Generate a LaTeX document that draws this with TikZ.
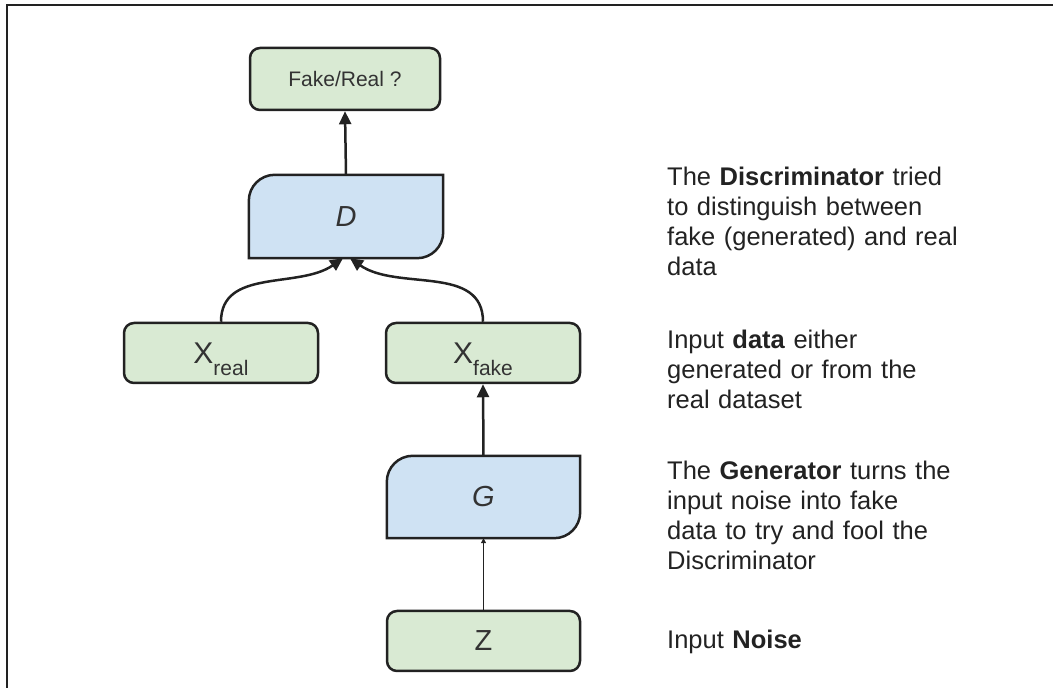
\documentclass[tikz,border=0pt]{standalone}
\usepackage{fontspec}
\setmainfont{Liberation Sans}
\usetikzlibrary{arrows.meta,backgrounds}
\definecolor{boxgreen}{HTML}{D9EAD3}
\definecolor{boxblue}{HTML}{CFE2F3}
\definecolor{ink}{HTML}{222222}
\definecolor{label}{HTML}{333333}
\begin{document}
\begin{tikzpicture}[x=1pt,y=1pt,
  box/.style={draw=ink, line width=2.5pt, fill=boxgreen, rounded corners=10pt,
    minimum width=194pt, minimum height=60pt, inner sep=0pt, text=label},
  net/.style={minimum width=194pt, minimum height=83pt, inner sep=0pt, text=label,
    font=\fontsize{29}{29}\selectfont\itshape},
  netshape/.style={draw=ink, line width=2.5pt, fill=boxblue},
  flow/.style={draw=ink, line width=2.5pt, -{Triangle[length=13pt,width=12pt]}},
  thinflow/.style={draw=ink, line width=1.1pt, -{Triangle[length=5pt,width=5pt]}},
  note/.style={anchor=base west, text width=330pt, align=left, inner sep=0pt,
    font=\fontsize{25.5}{30}\selectfont, text=ink}
]
\useasboundingbox (0,0) rectangle (1053,688);

% page frame (left and top edges)
\draw[ink, line width=2pt] (6.5,0) -- (6.5,682.5) -- (1053,682.5);

% boxes
\node[box, minimum width=190pt, minimum height=62pt, font=\fontsize{21}{21}\selectfont]
  (out) at (345,609) {Fake/Real ?};
\node[net] (D) at (346,471.5) {D};
\node[box, font=\fontsize{30}{30}\selectfont] (xreal) at (221,335)
  {X\raisebox{-12pt}[0pt][0pt]{\fontsize{21}{21}\selectfont real}};
\node[box, font=\fontsize{30}{30}\selectfont] (xfake) at (483,335)
  {X\raisebox{-12pt}[0pt][0pt]{\fontsize{21}{21}\selectfont fake}};
\node[net, minimum width=193pt, minimum height=82pt] (G) at (483.5,191) {G};
\node[box, minimum width=193pt, font=\fontsize{29}{29}\selectfont] (Z) at (483.5,47) {Z};

% network shapes: rounded top-left and bottom-right corners
\begin{scope}[on background layer]
  \foreach \n in {D,G}{
    \path[netshape] (\n.south west) -- ([yshift=-26pt]\n.north west)
      arc[start angle=180, end angle=90, radius=26pt] -- (\n.north east)
      -- ([yshift=26pt]\n.south east)
      arc[start angle=0, end angle=-90, radius=26pt] -- cycle;
  }
\end{scope}

% connectors
\coordinate (Din1) at ([xshift=-3pt]D.south);
\coordinate (Din2) at ([xshift=4pt]D.south);
\draw[flow] (D.north) -- (out.south);
\draw[flow] (xreal.north) to[out=90, in=215] (Din1);
\draw[flow] (xfake.north) to[out=90, in=-35] (Din2);
\draw[flow] (G.north) -- (xfake.south);
\draw[thinflow] (Z.north) -- (G.south);

% descriptions
\node[note] (t1) at (667,502)
  {The \textbf{Discriminator} tried\\to distinguish between\\fake (generated) and real\\data};
\node[note] (t2) at (667,339)
  {Input \textbf{data} either\\generated or from the\\real dataset};
\node[note] (t3) at (667,208)
  {The \textbf{Generator} turns the\\input noise into fake\\data to try and fool the\\Discriminator};
\node[note] (t4) at (667,39) {Input \textbf{Noise}};
\end{tikzpicture}
\end{document}
